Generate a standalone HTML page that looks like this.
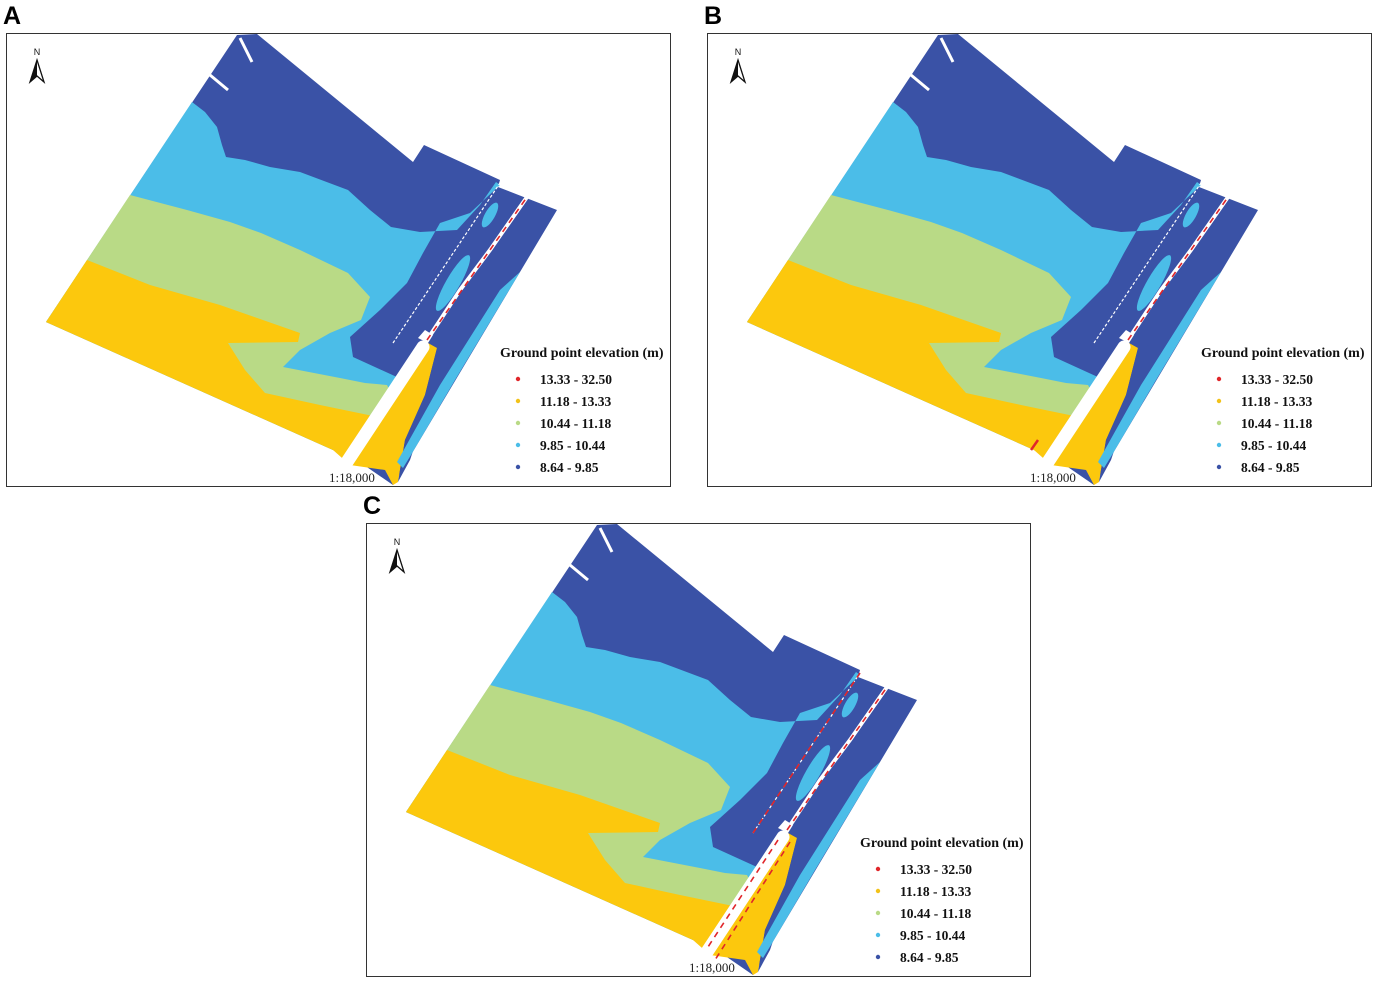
<!DOCTYPE html>
<html><head><meta charset="utf-8"><style>
html,body{margin:0;padding:0;background:#fff;}
svg{display:block;}
.lab{font-family:"Liberation Sans",sans-serif;font-weight:bold;font-size:25px;}
.leg{font-family:"Liberation Serif",serif;font-weight:bold;font-size:13.5px;fill:#111;}
.tt{font-family:"Liberation Serif",serif;font-weight:bold;font-size:14px;fill:#111;}
.sc{font-family:"Liberation Serif",serif;font-size:13px;fill:#222;}
</style></head><body>
<svg id="fig" width="1376" height="986" viewBox="0 0 1376 986" xmlns="http://www.w3.org/2000/svg">
<defs>
<g id="map">
  <path d="M237,35 L257,34 L413,162 L424,145 L500,180 L498,187 L557,210 L393,485 L361,463 L333,450 L46,322 Z" fill="#3a52a6"/>
  <path d="M192,102 L205,112 L217,127 L222,145 L226,157 L245,160 L270,167 L300,172 L348,190 L370,210 L391,227 L420,232 L457,230 L480,205 L496,182 L500,185 L470,213 L440,223 L423,253 L407,283 L380,310 L350,337 L353,357 L410,383 L400,440 L361,463 L333,450 L46,322 Z" fill="#4bbde8"/>
  <path d="M130,195 L187,210 L230,222 L261,233 L300,250 L348,273 L370,297 L361,320 L330,333 L300,350 L283,367 L340,378 L365,383 L387,385 L395,400 L370,440 L355,460 L333,450 L46,322 Z" fill="#b9da86"/>
  <path d="M87,260 L150,285 L220,305 L300,333 L298,342 L228,343 L245,370 L265,393 L320,405 L378,417 L360,445 L350,465 L333,450 L46,322 Z" fill="#fcc80d"/>
  <path d="M428,343 L437,348 L425,395 L405,440 L398,482 L393,485 L385,470 L350,465 Z" fill="#fcc80d"/>
  <path d="M437,348 L448,345 L430,400 L410,460 L398,482 L405,440 L425,395 Z" fill="#3a52a6"/>
  <path d="M520,272 L455,380 L411,455 L403,468 L397,462 L440,385 L500,290 Z" fill="#4bbde8"/>
  <ellipse cx="453" cy="283" rx="7" ry="32" transform="rotate(30 453 283)" fill="#4bbde8"/>
  <ellipse cx="490" cy="215" rx="5" ry="14" transform="rotate(30 490 215)" fill="#4bbde8"/>
  <line x1="423" y1="347" x2="343" y2="468" stroke="#fff" stroke-width="13" stroke-linecap="round"/>
  <path d="M427,340 L460,290 L490,250 L527,197" stroke="#fff" stroke-width="4" fill="none"/>
  <path d="M418,338 L425,330 L433,335 L428,343 Z" fill="#fff"/>
  <line x1="393" y1="343" x2="500" y2="183" stroke="#fff" stroke-width="1.2" stroke-dasharray="3 2"/>
  <line x1="210" y1="75" x2="228" y2="90" stroke="#fff" stroke-width="3"/>
  <line x1="240" y1="38" x2="252" y2="62" stroke="#fff" stroke-width="3"/>
  <path d="M37,60 L44,82 L37,76 L30,82 Z" fill="#fff" stroke="#111" stroke-width="1.3"/>
  <path d="M37,60 L37,76 L30,82 Z" fill="#111"/>
  <text x="37" y="55" text-anchor="middle" font-family="Liberation Sans,sans-serif" font-size="9" fill="#111">N</text>
</g>
</defs>
<script>
const categories=["13.33 - 32.50","11.18 - 13.33","10.44 - 11.18","9.85 - 10.44","8.64 - 9.85"];
const colors=["#e0262a","#f2c21a","#b9da86","#4bbde8","#3a52a6"];
const panelNames=["A","B","C"];
const panelOffsetsX=[0,701,360];
const panelOffsetsY=[0,0,490];
</script>
<g id="panels"></g>
<script>
(function(){
const NS="http://www.w3.org/2000/svg";
const root=document.getElementById('panels');
panelNames.forEach((p,i)=>{
  const g=document.createElementNS(NS,'g');
  g.setAttribute('transform','translate('+panelOffsetsX[i]+','+panelOffsetsY[i]+')');
  
  
  const fr=document.createElementNS(NS,'rect');
  fr.setAttribute('x',6.5);fr.setAttribute('y',33.5);fr.setAttribute('width',664);fr.setAttribute('height',453);
  fr.setAttribute('fill','#fff');fr.setAttribute('stroke','#333');fr.setAttribute('stroke-width',1);
  
  
  g.appendChild(fr);
  const u=document.createElementNS(NS,'use');
  u.setAttribute('href','#map');
  
  
  g.appendChild(u);
  if(i===1){
    const r=document.createElementNS(NS,'line');
    r.setAttribute('x1',337);r.setAttribute('y1',440);r.setAttribute('x2',330);r.setAttribute('y2',450);
    r.setAttribute('stroke','#e0262a');r.setAttribute('stroke-width',2.5);
    
    
    g.appendChild(r);
  }
  const redLines = i===2 ? [[427,340,527,197],[418,350,346,460],[430,352,355,470],[393,343,500,183]] : [[427,340,527,197]];
  redLines.forEach(l=>{
    const r=document.createElementNS(NS,'line');
    r.setAttribute('x1',l[0]);r.setAttribute('y1',l[1]);r.setAttribute('x2',l[2]);r.setAttribute('y2',l[3]);
    r.setAttribute('stroke','#e0262a');r.setAttribute('stroke-width',1.6);r.setAttribute('stroke-dasharray','6 5');
    
    
    g.appendChild(r);
  });
  const lt=document.createElementNS(NS,'text');
  lt.setAttribute('x',3);lt.setAttribute('y',24);lt.setAttribute('class','lab');lt.textContent=p;
  
  
  g.appendChild(lt);
  const tt=document.createElementNS(NS,'text');
  tt.setAttribute('x',500);tt.setAttribute('y',357);tt.setAttribute('class','tt');tt.textContent='Ground point elevation (m)';
  
  
  g.appendChild(tt);
  categories.forEach((c,k)=>{
    const y=379+k*22;
    const d=document.createElementNS(NS,'circle');
    d.setAttribute('cx',518);d.setAttribute('cy',y);d.setAttribute('r',2.2);d.setAttribute('fill',colors[k]);
    
    
    g.appendChild(d);
    const t=document.createElementNS(NS,'text');
    t.setAttribute('x',540);t.setAttribute('y',y+5);t.setAttribute('class','leg');t.textContent=c;
    
    
    g.appendChild(t);
  });
  const s=document.createElementNS(NS,'text');
  s.setAttribute('x',329);s.setAttribute('y',482);s.setAttribute('class','sc');s.textContent='1:18,000';
  
  
  g.appendChild(s);
  root.appendChild(g);
});
})();
</script>
</svg>
</body></html>
